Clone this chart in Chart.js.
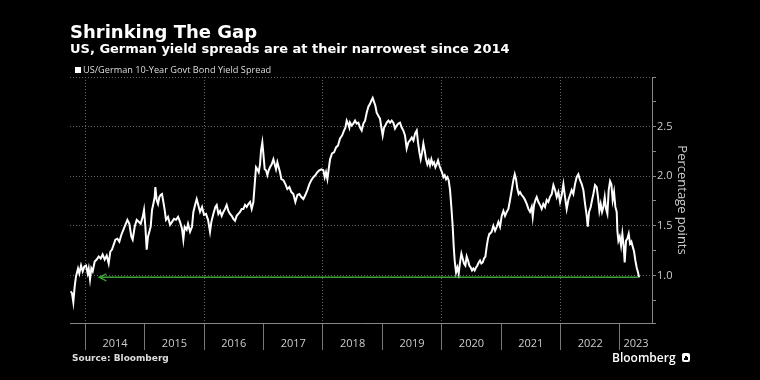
<!DOCTYPE html>
<html><head><meta charset="utf-8">
<script src="https://cdn.jsdelivr.net/npm/chart.js@4/dist/chart.umd.min.js"></script>
<style>
html,body{margin:0;padding:0;background:#000;}
#wrap{position:relative;width:760px;height:380px;overflow:hidden;background:#000;}
canvas{position:absolute;left:0;top:0;}
.t{position:absolute;white-space:nowrap;color:#fff;line-height:1;}
#logoIcon{display:inline-block;width:8px;height:9px;background:#fff;border-radius:2px;margin-left:6px;vertical-align:0px;position:relative;}
#logoIcon i{position:absolute;bottom:2px;width:1.3px;background:#000;}
</style></head><body>
<div id="wrap">
<canvas id="c" width="760" height="380"></canvas>
<div class="t" style="left:70px;top:20.5px;font:bold 18px 'DejaVu Sans';">Shrinking The Gap</div>
<div class="t" style="left:70px;top:40.7px;font:bold 13px 'DejaVu Sans';">US, German yield spreads are at their narrowest since 2014</div>
<div class="t" style="left:75px;top:63.2px;font:9.2px 'Open Sans';color:#ddd;"><span style="display:inline-block;width:6px;height:6px;background:#fff;margin-right:2px;"></span>US/German 10-Year Govt Bond Yield Spread</div>
<div class="t" style="left:72px;top:353px;font:bold 9px 'DejaVu Sans';color:#ddd;">Source: Bloomberg</div>
<div class="t" style="left:612px;top:349.3px;font:600 12px 'Open Sans';">Bloomberg<span id="logoIcon"><i style="left:2px;height:2.5px"></i><i style="left:3.8px;height:4.5px"></i><i style="left:5.6px;height:3.5px"></i></span></div>
</div>
<script>
// Decimal-year dates and spread values (percentage points)
const dates = [
2013.754,2013.776,2013.798,2013.821,2013.843,2013.877,2013.899,2013.928,2013.956,2013.984,
2014.012,2014.040,2014.057,2014.079,2014.101,2014.124,2014.158,2014.191,2014.225,2014.259,
2014.292,2014.326,2014.360,2014.393,2014.421,2014.449,2014.472,2014.506,2014.539,2014.573,
2014.607,2014.640,2014.674,2014.708,2014.741,2014.775,2014.797,2014.831,2014.865,2014.898,
2014.932,2014.966,2014.988,2015.011,2015.033,2015.055,2015.078,2015.100,2015.123,2015.145,
2015.168,2015.179,2015.201,2015.224,2015.246,2015.269,2015.291,2015.314,2015.336,2015.358,
2015.392,2015.426,2015.460,2015.493,2015.527,2015.561,2015.594,2015.628,2015.650,2015.673,
2015.706,2015.729,2015.763,2015.796,2015.819,2015.852,2015.875,2015.897,2015.931,2015.965,
2015.998,2016.032,2016.066,2016.099,2016.122,2016.155,2016.189,
2016.212,2016.240,2016.268,2016.296,2016.324,2016.352,2016.380,2016.408,2016.436,2016.464,
2016.492,2016.520,2016.548,2016.576,2016.604,2016.632,2016.661,2016.689,2016.717,2016.745,
2016.773,2016.801,2016.829,2016.857,2016.874,2016.896,2016.919,2016.941,2016.958,2016.980,
2016.997,2017.020,2017.042,2017.065,2017.087,2017.109,2017.138,2017.166,2017.188,2017.210,
2017.233,2017.255,2017.278,2017.300,2017.334,2017.368,2017.401,2017.435,2017.469,2017.502,
2017.536,2017.570,2017.603,2017.637,2017.671,2017.704,2017.738,2017.772,2017.805,2017.839,
2017.873,2017.906,2017.940,2017.974,2018.007,2018.030,2018.052,2018.075,2018.097,2018.120,
2018.153,2018.187,2018.221,2018.254,2018.288,2018.322,2018.355,2018.378,2018.400,2018.423,
2018.445,
2018.456,2018.484,2018.512,2018.541,2018.569,2018.597,2018.625,2018.653,2018.681,2018.709,
2018.737,2018.765,2018.793,2018.821,2018.838,2018.860,2018.883,2018.905,2018.933,2018.961,
2018.984,2019.006,2019.029,2019.051,2019.074,2019.102,2019.130,2019.158,2019.186,2019.214,
2019.242,2019.270,2019.298,2019.326,2019.354,2019.382,2019.410,2019.438,2019.466,2019.495,
2019.523,2019.551,2019.579,2019.601,2019.624,2019.646,2019.669,2019.691,2019.713,2019.736,
2019.758,2019.781,2019.803,2019.826,2019.848,2019.870,2019.893,2019.915,2019.938,2019.960,
2019.983,2020.005,2020.028,2020.050,2020.073,2020.095,2020.117,2020.140,2020.162,2020.185,
2020.202,2020.218,2020.241,2020.263,2020.286,2020.308,2020.331,2020.353,2020.375,2020.398,
2020.420,2020.443,2020.465,2020.488,2020.510,2020.533,2020.555,2020.578,2020.600,2020.622,
2020.645,2020.667,2020.690,2020.712,2020.735,2020.757,2020.779,2020.802,
2020.813,2020.841,2020.869,2020.898,2020.926,2020.954,2020.982,2021.010,2021.038,2021.066,
2021.094,2021.122,2021.150,2021.178,2021.206,2021.229,2021.251,2021.274,2021.296,2021.318,
2021.346,2021.375,2021.403,2021.431,2021.459,2021.487,2021.515,2021.532,2021.554,2021.577,
2021.599,2021.627,2021.655,2021.683,2021.711,2021.739,2021.767,2021.795,2021.823,2021.852,
2021.880,2021.908,2021.936,2021.964,2021.992,2022.020,2022.048,2022.076,2022.104,2022.132,
2022.160,2022.188,2022.216,2022.244,2022.272,2022.300,2022.329,2022.357,2022.385,2022.413,
2022.441,2022.458,2022.480,2022.508,2022.531,2022.553,2022.581,2022.609,2022.631,2022.654,
2022.676,2022.699,2022.721,2022.744,2022.766,2022.789,2022.811,2022.834,2022.856,2022.878,
2022.901,2022.923,2022.946,2022.957,2022.974,2022.996,2023.019,2023.041,2023.064,2023.080,
2023.103,2023.125,2023.148,2023.170,2023.193,2023.215,2023.238,2023.260,2023.282,2023.305,
2023.322
];
const spread = [
0.84,0.82,0.73,0.89,0.99,1.07,1.02,1.10,1.04,1.09,
1.10,1.02,1.07,0.96,1.07,1.04,1.14,1.16,1.19,1.17,
1.21,1.16,1.20,1.12,1.24,1.26,1.30,1.36,1.37,1.34,
1.41,1.46,1.51,1.56,1.52,1.39,1.36,1.49,1.56,1.54,
1.52,1.59,1.66,1.49,1.26,1.39,1.44,1.49,1.66,1.72,
1.79,1.89,1.76,1.72,1.79,1.81,1.82,1.74,1.66,1.56,
1.59,1.51,1.54,1.57,1.56,1.59,1.54,1.47,1.36,1.49,
1.46,1.52,1.44,1.49,1.64,1.72,1.77,1.72,1.64,1.69,
1.61,1.62,1.56,1.44,1.54,1.62,1.69,
1.71,1.62,1.65,1.60,1.64,1.67,1.71,1.65,1.62,1.60,
1.57,1.55,1.60,1.62,1.64,1.67,1.67,1.71,1.69,1.72,
1.74,1.67,1.74,1.96,2.09,2.07,2.04,2.12,2.26,2.34,
2.23,2.07,2.06,2.01,2.06,2.09,2.12,2.17,2.12,2.07,
2.14,2.09,2.04,1.97,1.96,1.92,1.87,1.89,1.84,1.82,
1.74,1.81,1.82,1.79,1.77,1.81,1.86,1.92,1.96,1.99,
2.01,2.04,2.06,2.07,2.06,1.99,2.04,1.97,2.07,2.17,
2.23,2.24,2.29,2.31,2.38,2.41,2.46,2.49,2.56,2.53,
2.49,
2.54,2.51,2.53,2.56,2.53,2.54,2.49,2.46,2.53,2.56,
2.64,2.70,2.73,2.77,2.79,2.75,2.71,2.64,2.61,2.58,
2.49,2.41,2.49,2.51,2.54,2.56,2.54,2.56,2.54,2.48,
2.51,2.53,2.54,2.49,2.46,2.41,2.28,2.34,2.36,2.39,
2.36,2.43,2.46,2.34,2.24,2.17,2.24,2.33,2.26,2.17,
2.12,2.16,2.11,2.17,2.12,2.14,2.09,2.12,2.16,2.11,
2.07,2.04,1.99,2.01,1.97,1.99,1.96,1.86,1.69,1.49,
1.29,1.15,1.03,1.08,1.02,1.13,1.22,1.17,1.12,1.10,
1.19,1.15,1.10,1.08,1.05,1.07,1.05,1.08,1.10,1.13,
1.15,1.12,1.13,1.17,1.19,1.29,1.37,1.42,
1.42,1.44,1.50,1.45,1.49,1.54,1.49,1.60,1.65,1.60,
1.64,1.67,1.76,1.86,1.96,2.02,1.97,1.87,1.82,1.84,
1.81,1.79,1.76,1.72,1.67,1.64,1.69,1.59,1.71,1.76,
1.79,1.74,1.71,1.67,1.72,1.69,1.76,1.74,1.79,1.82,
1.91,1.86,1.79,1.84,1.74,1.81,1.92,1.79,1.67,1.76,
1.81,1.86,1.82,1.92,1.99,2.02,1.96,1.92,1.86,1.72,
1.60,1.49,1.64,1.69,1.76,1.82,1.91,1.89,1.79,1.65,
1.72,1.64,1.69,1.79,1.67,1.62,1.86,1.95,1.92,1.76,
1.84,1.69,1.64,1.45,1.35,1.39,1.30,1.42,1.29,1.13,
1.35,1.37,1.42,1.32,1.34,1.29,1.24,1.15,1.08,1.03,
0.98
];
// Axis ticks / labels
const yearTicks = [2014,2015,2016,2017,2018,2019,2020,2021,2022,2023];
const yearLabels = ['2014','2015','2016','2017','2018','2019','2020','2021','2022','2023'];
const yearLabelPos = [2014.5,2015.5,2016.5,2017.5,2018.5,2019.5,2020.5,2021.5,2022.5,2023.27];
const gridYears = [2014,2016,2018,2020,2022];
const yLabelled = [1.0,1.5,2.0,2.5];
const yGrid = [1.0,1.5,2.0,2.5,3.0];
const xMin = 2013.742, xMax = 2023.54;
const yMin = 0.52, yMax = 3.0;
// Reference level (2014 low) marker
const refLevel = 0.98, refStart = 2014.236, refEnd = 2023.3;

const arrowPlugin = {
  id: 'arrowHead',
  afterDatasetsDraw(chart) {
    const {ctx, scales: {x, y}} = chart;
    const px = x.getPixelForValue(refStart), py = y.getPixelForValue(refLevel);
    ctx.save();
    ctx.strokeStyle = '#3aa33a';
    ctx.lineWidth = 1.5;
    ctx.beginPath();
    ctx.moveTo(px + 7, py - 3.5);
    ctx.lineTo(px, py);
    ctx.lineTo(px + 7, py + 3.5);
    ctx.stroke();
    ctx.restore();
  }
};

new Chart(document.getElementById('c'), {
  type: 'line',
  data: {
    datasets: [
      {
        label: 'US/German 10-Year Govt Bond Yield Spread',
        data: dates.map((d, i) => ({x: d, y: spread[i]})),
        borderColor: '#ffffff', borderWidth: 2, pointRadius: 0, tension: 0, order: 1
      },
      {
        label: 'ref',
        data: [{x: refStart, y: refLevel}, {x: refEnd, y: refLevel}],
        borderColor: '#3aa33a', borderWidth: 1.5, pointRadius: 0, order: 2
      }
    ]
  },
  options: {
    responsive: false, animation: false, devicePixelRatio: 1,
    layout: {padding: {left: 70, top: 77, right: 66, bottom: 27}},
    plugins: {legend: {display: false}, tooltip: {enabled: false}},
    scales: {
      x: {
        type: 'linear', position: 'bottom', min: xMin, max: xMax,
        afterBuildTicks: s => {
          s.ticks = yearTicks.map(v => ({value: v})).concat(yearLabelPos.map(v => ({value: v})))
            .sort((a, b) => a.value - b.value);
        },
        afterFit: s => { s.height = 30; },
        ticks: {
          autoSkip: false, maxRotation: 0, padding: -13, color: '#cccccc',
          font: {family: 'Open Sans', size: 11},
          callback: v => { const i = yearLabelPos.indexOf(v); return i >= 0 ? yearLabels[i] : ''; }
        },
        grid: {
          color: c => (c.tick && gridYears.includes(c.tick.value)) ? '#666666' : 'rgba(0,0,0,0)',
          tickColor: c => (c.tick && yearTicks.includes(c.tick.value)) ? '#777777' : 'rgba(0,0,0,0)',
          tickLength: 27, lineWidth: 1
        },
        border: {display: true, color: '#888888', width: 1, dash: [1, 2]}
      },
      y: {
        type: 'linear', position: 'right', min: yMin, max: yMax,
        afterFit: s => { s.width = 42; },
        ticks: {
          stepSize: 0.25, autoSkip: false, padding: 1, color: '#cccccc',
          font: {family: 'Open Sans', size: 11},
          callback: v => yLabelled.includes(v) ? v.toFixed(1) : ''
        },
        grid: {
          color: c => (c.tick && yGrid.includes(c.tick.value)) ? '#666666' : 'rgba(0,0,0,0)',
          tickColor: '#888888', tickLength: 4, lineWidth: 1
        },
        border: {display: true, color: '#888888', width: 1, dash: [1, 2]},
        title: {
          display: true, text: 'Percentage points', color: '#cccccc',
          font: {family: 'Open Sans', size: 13}, padding: 4
        }
      }
    }
  },
  plugins: [arrowPlugin]
});
</script>
</body></html>
